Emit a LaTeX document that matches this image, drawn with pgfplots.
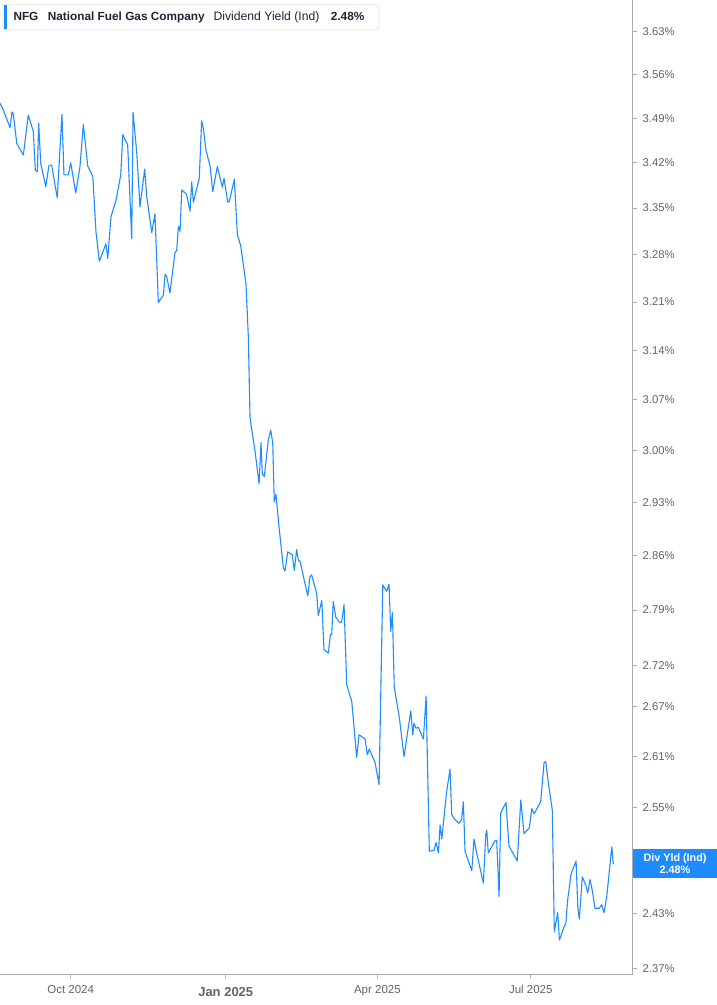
\documentclass[border=0pt]{standalone}
\usepackage{pgfplots}
\pgfplotsset{compat=1.18}
\usepackage{fontspec}
\setmainfont{Liberation Sans}
\definecolor{lineblue}{HTML}{1E8CFF}
\definecolor{axgray}{HTML}{ABABAB}
\definecolor{ticktxt}{HTML}{626270}
\definecolor{navy}{HTML}{1F2537}
\begin{document}
\begin{tikzpicture}[x=1pt,y=1pt]
\begin{axis}[
  at={(0pt,30.7pt)}, anchor=south west,
  scale only axis, width=632.7pt, height=974.3pt,
  xmin=-41.96, xmax=333.5,
  ymode=log, ymin=2.3639, ymax=3.6828,
  axis x line*=bottom, axis y line*=right,
  axis line style={axgray, line width=1.3pt, -},
  tick align=outside, major tick length=4pt,
  tick style={axgray, line width=0.9pt},
  yminorticks=false, xminorticks=false,
  xtick={0,92,182,273},
  xticklabels={Oct 2024,{\fontsize{13}{13}\selectfont\bfseries\raisebox{-2.7pt}{Jan 2025}},Apr 2025,Jul 2025},
  xticklabel style={anchor=base, inner sep=0pt, yshift=-15.5pt, font=\fontsize{11.5}{12}\selectfont, text=ticktxt},
  ytick={2.37,2.43,2.55,2.61,2.67,2.72,2.79,2.86,2.93,3.00,3.07,3.14,3.21,3.28,3.35,3.42,3.49,3.56,3.63},
  yticklabels={2.37\%,2.43\%,2.55\%,2.61\%,2.67\%,2.72\%,2.79\%,2.86\%,2.93\%,3.00\%,3.07\%,3.14\%,3.21\%,3.28\%,3.35\%,3.42\%,3.49\%,3.56\%,3.63\%},
  yticklabel style={anchor=west, inner sep=0pt, xshift=5.8pt, font=\fontsize{11.3}{12}\selectfont, text=ticktxt},
  clip=false,
]
\addplot[lineblue, line width=1.1pt, line join=round, mark=none] coordinates {
(-42.0,3.514) (-40.0,3.503) (-36.0,3.475) (-34.8,3.500) (-34.1,3.497) (-32.0,3.450) (-28.1,3.432) (-25.2,3.495)
(-22.2,3.469) (-21.0,3.408) (-19.8,3.406) (-19.0,3.482) (-17.8,3.419) (-14.8,3.383) (-12.9,3.416) (-11.3,3.416)
(-8.0,3.366) (-5.2,3.496) (-4.0,3.401) (-1.4,3.401) (0.0,3.420) (3.0,3.373) (5.5,3.414) (7.5,3.480)
(10.1,3.415) (13.1,3.399) (15.0,3.314) (17.0,3.270) (20.9,3.296) (22.0,3.274) (23.9,3.337) (26.9,3.362)
(29.7,3.401) (30.9,3.464) (33.8,3.448) (36.2,3.304) (37.0,3.499) (39.2,3.435) (41.1,3.352) (43.9,3.410)
(45.1,3.368) (48.1,3.313) (50.0,3.341) (52.0,3.209) (55.0,3.220) (56.0,3.251) (57.0,3.247) (58.9,3.223)
(61.9,3.283) (62.9,3.286) (63.9,3.322) (64.9,3.315) (65.9,3.378) (68.8,3.371) (70.8,3.345) (71.8,3.390)
(72.8,3.359) (76.3,3.396) (77.7,3.486) (78.7,3.474) (80.3,3.439) (82.7,3.415) (84.3,3.375) (87.0,3.414)
(90.0,3.382) (91.0,3.396) (93.2,3.359) (94.1,3.360) (97.1,3.394) (98.9,3.310) (100.9,3.293) (104.0,3.237)
(105.4,3.160) (106.4,3.047) (107.0,3.035) (109.4,2.999) (111.8,2.955) (112.9,3.011) (113.7,2.968) (114.9,2.965)
(117.3,3.015) (118.7,3.028) (119.9,3.010) (120.8,2.931) (121.8,2.941) (123.6,2.898) (126.2,2.844) (127.2,2.840)
(128.8,2.865) (131.5,2.861) (132.7,2.841) (134.1,2.868) (135.1,2.854) (136.1,2.853) (138.6,2.828) (140.7,2.808)
(142.0,2.833) (143.0,2.835) (146.0,2.811) (146.9,2.783) (149.0,2.802) (150.3,2.740) (152.9,2.736) (154.1,2.759)
(154.9,2.759) (155.8,2.801) (157.3,2.781) (159.8,2.774) (160.8,2.775) (162.2,2.797) (163.8,2.697) (166.8,2.676)
(169.7,2.609) (171.1,2.636) (174.7,2.631) (176.0,2.612) (177.2,2.619) (180.6,2.603) (183.0,2.577) (185.2,2.822)
(187.5,2.814) (188.9,2.823) (189.9,2.763) (190.9,2.787) (192.0,2.694) (195.0,2.657) (197.8,2.610) (201.8,2.665)
(203.0,2.636) (203.7,2.650) (204.9,2.644) (206.3,2.645) (209.3,2.631) (210.9,2.683) (212.8,2.500) (215.6,2.501)
(216.8,2.510) (218.2,2.498) (219.2,2.530) (220.2,2.514) (223.1,2.569) (225.1,2.595) (226.1,2.542) (228.1,2.536)
(230.4,2.532) (232.0,2.536) (233.0,2.557) (234.0,2.500) (238.0,2.478) (239.3,2.514) (240.9,2.498) (244.9,2.464)
(246.3,2.519) (246.9,2.524) (247.8,2.498) (251.8,2.512) (252.8,2.512) (254.2,2.449) (255.2,2.544) (258.3,2.556)
(260.1,2.506) (265.0,2.489) (267.1,2.559) (269.0,2.520) (272.2,2.527) (273.6,2.549) (275.0,2.543) (278.9,2.557)
(280.9,2.603) (281.9,2.604) (283.4,2.580) (285.8,2.547) (287.0,2.410) (289.0,2.431) (290.0,2.401) (292.9,2.416)
(293.8,2.419) (294.9,2.445) (296.9,2.474) (299.9,2.489) (300.9,2.438) (301.8,2.424) (303.6,2.471) (305.6,2.462)
(306.8,2.453) (308.2,2.468) (309.5,2.456) (311.1,2.436) (313.7,2.436) (315.1,2.440) (316.5,2.431) (318.1,2.449)
(321.1,2.505) (322.0,2.485)
};
\end{axis}
% legend box
\draw[draw=black!10, fill=white, rounded corners=3pt, line width=0.8pt] (3,975) rectangle (379,1000.3);
\fill[lineblue] (3.6,975.5) rectangle (6.8,999.8);
\node[anchor=base west, inner sep=0pt, text=navy, font=\fontsize{11.8}{12}\selectfont\bfseries] at (13.3,984) {NFG};
\node[anchor=base west, inner sep=0pt, text=navy, font=\fontsize{11.8}{12}\selectfont\bfseries] at (47.7,984) {National Fuel Gas Company};
\node[anchor=base west, inner sep=0pt, text=navy, font=\fontsize{12.2}{12}\selectfont] at (213.3,984) {Dividend Yield (Ind)};
\node[anchor=base west, inner sep=0pt, text=navy, font=\fontsize{11.8}{12}\selectfont\bfseries] at (330.7,984) {2.48\%};
% current value label
\fill[lineblue] (632.7,127) rectangle (717,156);
\node[anchor=base, inner sep=0pt, text=white, font=\fontsize{10.8}{11}\selectfont\bfseries] at (675,143.5) {Div Yld (Ind)};
\node[anchor=base, inner sep=0pt, text=white, font=\fontsize{10.8}{11}\selectfont\bfseries] at (675,131.5) {2.48\%};
\pgfresetboundingbox
\path[use as bounding box] (0,0) rectangle (717,1005);
\end{tikzpicture}
\end{document}
